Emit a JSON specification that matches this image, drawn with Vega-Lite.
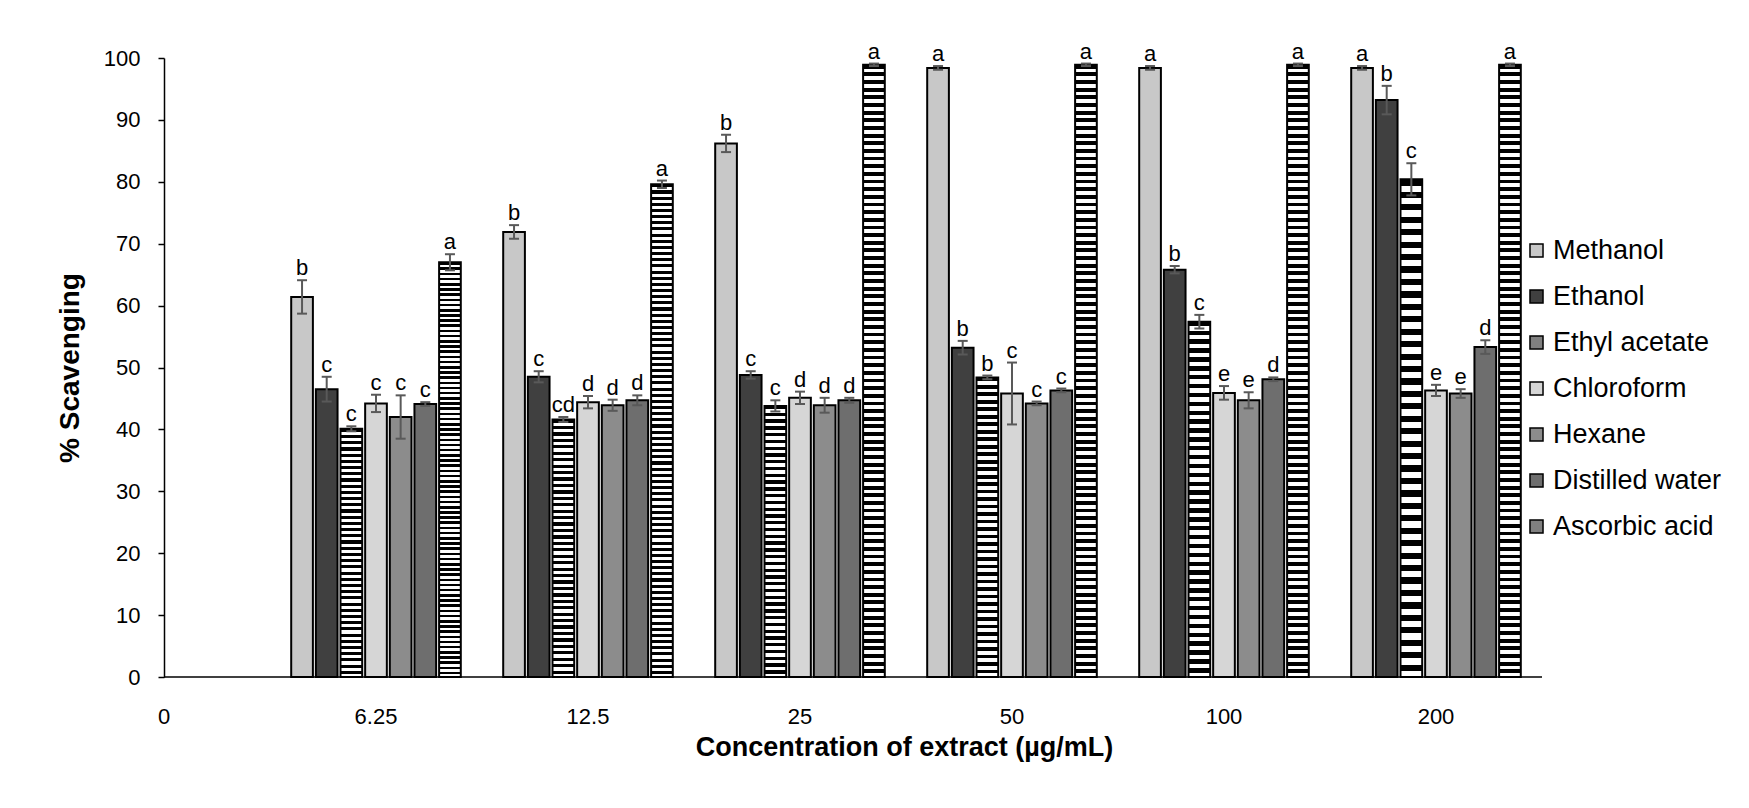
{
"$schema":"https://vega.github.io/schema/vega-lite/v6.json",
"width":1378,"height":619,
"autosize":{"type":"none"},
"padding":{"left":164,"top":58,"right":207,"bottom":131},
"background":"#ffffff",
"config":{"view":{"stroke":null},"font":"Liberation Sans","text":{"font":"Liberation Sans"}},
"layer":[
{
"data":{"values":[
{"conc":"6.25","series":"Methanol","value":61.4,"lo":58.7,"hi":64.1,"letter":"b"},
{"conc":"6.25","series":"Ethanol","value":46.5,"lo":44.5,"hi":48.5,"letter":"c"},
{"conc":"6.25","series":"Ethyl acetate","value":40.1,"lo":39.7,"hi":40.5,"letter":"c"},
{"conc":"6.25","series":"Chloroform","value":44.2,"lo":42.8,"hi":45.6,"letter":"c"},
{"conc":"6.25","series":"Hexane","value":42.0,"lo":38.5,"hi":45.5,"letter":"c"},
{"conc":"6.25","series":"Distilled water","value":44.1,"lo":43.8,"hi":44.4,"letter":"c"},
{"conc":"6.25","series":"Ascorbic acid","value":67.0,"lo":65.7,"hi":68.3,"letter":"a"},
{"conc":"12.5","series":"Methanol","value":71.9,"lo":70.8,"hi":73.0,"letter":"b"},
{"conc":"12.5","series":"Ethanol","value":48.5,"lo":47.6,"hi":49.4,"letter":"c"},
{"conc":"12.5","series":"Ethyl acetate","value":41.6,"lo":41.2,"hi":42.0,"letter":"cd"},
{"conc":"12.5","series":"Chloroform","value":44.4,"lo":43.4,"hi":45.4,"letter":"d"},
{"conc":"12.5","series":"Hexane","value":43.9,"lo":43.0,"hi":44.8,"letter":"d"},
{"conc":"12.5","series":"Distilled water","value":44.7,"lo":43.9,"hi":45.5,"letter":"d"},
{"conc":"12.5","series":"Ascorbic acid","value":79.6,"lo":79.0,"hi":80.2,"letter":"a"},
{"conc":"25","series":"Methanol","value":86.2,"lo":84.8,"hi":87.6,"letter":"b"},
{"conc":"25","series":"Ethanol","value":48.8,"lo":48.2,"hi":49.4,"letter":"c"},
{"conc":"25","series":"Ethyl acetate","value":43.8,"lo":42.9,"hi":44.7,"letter":"c"},
{"conc":"25","series":"Chloroform","value":45.1,"lo":44.1,"hi":46.1,"letter":"d"},
{"conc":"25","series":"Hexane","value":43.9,"lo":42.7,"hi":45.1,"letter":"d"},
{"conc":"25","series":"Distilled water","value":44.7,"lo":44.3,"hi":45.1,"letter":"d"},
{"conc":"25","series":"Ascorbic acid","value":98.9,"lo":98.7,"hi":99.1,"letter":"a"},
{"conc":"50","series":"Methanol","value":98.4,"lo":98.1,"hi":98.7,"letter":"a"},
{"conc":"50","series":"Ethanol","value":53.2,"lo":52.1,"hi":54.3,"letter":"b"},
{"conc":"50","series":"Ethyl acetate","value":48.4,"lo":48.1,"hi":48.7,"letter":"b"},
{"conc":"50","series":"Chloroform","value":45.8,"lo":40.8,"hi":50.8,"letter":"c"},
{"conc":"50","series":"Hexane","value":44.2,"lo":43.9,"hi":44.5,"letter":"c"},
{"conc":"50","series":"Distilled water","value":46.3,"lo":46.0,"hi":46.6,"letter":"c"},
{"conc":"50","series":"Ascorbic acid","value":98.9,"lo":98.7,"hi":99.1,"letter":"a"},
{"conc":"100","series":"Methanol","value":98.4,"lo":98.1,"hi":98.7,"letter":"a"},
{"conc":"100","series":"Ethanol","value":65.8,"lo":65.2,"hi":66.4,"letter":"b"},
{"conc":"100","series":"Ethyl acetate","value":57.4,"lo":56.3,"hi":58.5,"letter":"c"},
{"conc":"100","series":"Chloroform","value":45.9,"lo":44.8,"hi":47.0,"letter":"e"},
{"conc":"100","series":"Hexane","value":44.7,"lo":43.4,"hi":46.0,"letter":"e"},
{"conc":"100","series":"Distilled water","value":48.1,"lo":47.8,"hi":48.4,"letter":"d"},
{"conc":"100","series":"Ascorbic acid","value":98.9,"lo":98.7,"hi":99.1,"letter":"a"},
{"conc":"200","series":"Methanol","value":98.4,"lo":98.1,"hi":98.7,"letter":"a"},
{"conc":"200","series":"Ethanol","value":93.2,"lo":90.9,"hi":95.5,"letter":"b"},
{"conc":"200","series":"Ethyl acetate","value":80.4,"lo":77.8,"hi":83.0,"letter":"c"},
{"conc":"200","series":"Chloroform","value":46.3,"lo":45.4,"hi":47.2,"letter":"e"},
{"conc":"200","series":"Hexane","value":45.8,"lo":45.1,"hi":46.5,"letter":"e"},
{"conc":"200","series":"Distilled water","value":53.3,"lo":52.2,"hi":54.4,"letter":"d"},
{"conc":"200","series":"Ascorbic acid","value":98.9,"lo":98.7,"hi":99.1,"letter":"a"}
]},
"encoding":{
"x":{"field":"conc","type":"nominal","scale":{"domain":["0","6.25","12.5","25","50","100","200"],"range":[-106,1378],"paddingInner":0.2,"paddingOuter":0.1},
"axis":{"title":"Concentration of extract (µg/mL)","labelAngle":0,"ticks":false,"domain":false,"grid":false,"labelFontSize":22,"labelColor":"#000","labelPadding":29,"titleFontSize":27,"titleFontWeight":"bold","titleColor":"#000","titlePadding":7,"titleX":740}},
"xOffset":{"field":"series","type":"nominal","sort":["Methanol","Ethanol","Ethyl acetate","Chloroform","Hexane","Distilled water","Ascorbic acid"],"scale":{"paddingInner":0.12}}
},
"layer":[
{"mark":{"type":"bar","stroke":"#000","strokeWidth":2},
"encoding":{
"y":{"field":"value","type":"quantitative","scale":{"domain":[0,100],"nice":false},
"axis":{"title":"% Scavenging","values":[0,10,20,30,40,50,60,70,80,90,100],"grid":false,"tickSize":6,"tickColor":"#000","tickWidth":1.5,"domainColor":"#000","domainWidth":1.5,"labelFontSize":22,"labelColor":"#000","labelPadding":18,"titleFontSize":28,"titleFontWeight":"bold","titleColor":"#000","titlePadding":19}},
"fill":{"field":"series","type":"nominal",
"condition":[
{"test":"datum.series === 'Ethyl acetate'","value":{"gradient":"linear","x1":0,"y1":0,"x2":0,"y2":1,"stops":[
{"offset":0,"color":"#000"},{"offset":0.0125,"color":"#000"},{"offset":0.0125,"color":"#fff"},{"offset":0.025,"color":"#fff"},
{"offset":0.025,"color":"#000"},{"offset":0.0375,"color":"#000"},{"offset":0.0375,"color":"#fff"},{"offset":0.05,"color":"#fff"},
{"offset":0.05,"color":"#000"},{"offset":0.0625,"color":"#000"},{"offset":0.0625,"color":"#fff"},{"offset":0.075,"color":"#fff"},
{"offset":0.075,"color":"#000"},{"offset":0.0875,"color":"#000"},{"offset":0.0875,"color":"#fff"},{"offset":0.1,"color":"#fff"},
{"offset":0.1,"color":"#000"},{"offset":0.1125,"color":"#000"},{"offset":0.1125,"color":"#fff"},{"offset":0.125,"color":"#fff"},
{"offset":0.125,"color":"#000"},{"offset":0.1375,"color":"#000"},{"offset":0.1375,"color":"#fff"},{"offset":0.15,"color":"#fff"},
{"offset":0.15,"color":"#000"},{"offset":0.1625,"color":"#000"},{"offset":0.1625,"color":"#fff"},{"offset":0.175,"color":"#fff"},
{"offset":0.175,"color":"#000"},{"offset":0.1875,"color":"#000"},{"offset":0.1875,"color":"#fff"},{"offset":0.2,"color":"#fff"},
{"offset":0.2,"color":"#000"},{"offset":0.2125,"color":"#000"},{"offset":0.2125,"color":"#fff"},{"offset":0.225,"color":"#fff"},
{"offset":0.225,"color":"#000"},{"offset":0.2375,"color":"#000"},{"offset":0.2375,"color":"#fff"},{"offset":0.25,"color":"#fff"},
{"offset":0.25,"color":"#000"},{"offset":0.2625,"color":"#000"},{"offset":0.2625,"color":"#fff"},{"offset":0.275,"color":"#fff"},
{"offset":0.275,"color":"#000"},{"offset":0.2875,"color":"#000"},{"offset":0.2875,"color":"#fff"},{"offset":0.3,"color":"#fff"},
{"offset":0.3,"color":"#000"},{"offset":0.3125,"color":"#000"},{"offset":0.3125,"color":"#fff"},{"offset":0.325,"color":"#fff"},
{"offset":0.325,"color":"#000"},{"offset":0.3375,"color":"#000"},{"offset":0.3375,"color":"#fff"},{"offset":0.35,"color":"#fff"},
{"offset":0.35,"color":"#000"},{"offset":0.3625,"color":"#000"},{"offset":0.3625,"color":"#fff"},{"offset":0.375,"color":"#fff"},
{"offset":0.375,"color":"#000"},{"offset":0.3875,"color":"#000"},{"offset":0.3875,"color":"#fff"},{"offset":0.4,"color":"#fff"},
{"offset":0.4,"color":"#000"},{"offset":0.4125,"color":"#000"},{"offset":0.4125,"color":"#fff"},{"offset":0.425,"color":"#fff"},
{"offset":0.425,"color":"#000"},{"offset":0.4375,"color":"#000"},{"offset":0.4375,"color":"#fff"},{"offset":0.45,"color":"#fff"},
{"offset":0.45,"color":"#000"},{"offset":0.4625,"color":"#000"},{"offset":0.4625,"color":"#fff"},{"offset":0.475,"color":"#fff"},
{"offset":0.475,"color":"#000"},{"offset":0.4875,"color":"#000"},{"offset":0.4875,"color":"#fff"},{"offset":0.5,"color":"#fff"},
{"offset":0.5,"color":"#000"},{"offset":0.5125,"color":"#000"},{"offset":0.5125,"color":"#fff"},{"offset":0.525,"color":"#fff"},
{"offset":0.525,"color":"#000"},{"offset":0.5375,"color":"#000"},{"offset":0.5375,"color":"#fff"},{"offset":0.55,"color":"#fff"},
{"offset":0.55,"color":"#000"},{"offset":0.5625,"color":"#000"},{"offset":0.5625,"color":"#fff"},{"offset":0.575,"color":"#fff"},
{"offset":0.575,"color":"#000"},{"offset":0.5875,"color":"#000"},{"offset":0.5875,"color":"#fff"},{"offset":0.6,"color":"#fff"},
{"offset":0.6,"color":"#000"},{"offset":0.6125,"color":"#000"},{"offset":0.6125,"color":"#fff"},{"offset":0.625,"color":"#fff"},
{"offset":0.625,"color":"#000"},{"offset":0.6375,"color":"#000"},{"offset":0.6375,"color":"#fff"},{"offset":0.65,"color":"#fff"},
{"offset":0.65,"color":"#000"},{"offset":0.6625,"color":"#000"},{"offset":0.6625,"color":"#fff"},{"offset":0.675,"color":"#fff"},
{"offset":0.675,"color":"#000"},{"offset":0.6875,"color":"#000"},{"offset":0.6875,"color":"#fff"},{"offset":0.7,"color":"#fff"},
{"offset":0.7,"color":"#000"},{"offset":0.7125,"color":"#000"},{"offset":0.7125,"color":"#fff"},{"offset":0.725,"color":"#fff"},
{"offset":0.725,"color":"#000"},{"offset":0.7375,"color":"#000"},{"offset":0.7375,"color":"#fff"},{"offset":0.75,"color":"#fff"},
{"offset":0.75,"color":"#000"},{"offset":0.7625,"color":"#000"},{"offset":0.7625,"color":"#fff"},{"offset":0.775,"color":"#fff"},
{"offset":0.775,"color":"#000"},{"offset":0.7875,"color":"#000"},{"offset":0.7875,"color":"#fff"},{"offset":0.8,"color":"#fff"},
{"offset":0.8,"color":"#000"},{"offset":0.8125,"color":"#000"},{"offset":0.8125,"color":"#fff"},{"offset":0.825,"color":"#fff"},
{"offset":0.825,"color":"#000"},{"offset":0.8375,"color":"#000"},{"offset":0.8375,"color":"#fff"},{"offset":0.85,"color":"#fff"},
{"offset":0.85,"color":"#000"},{"offset":0.8625,"color":"#000"},{"offset":0.8625,"color":"#fff"},{"offset":0.875,"color":"#fff"},
{"offset":0.875,"color":"#000"},{"offset":0.8875,"color":"#000"},{"offset":0.8875,"color":"#fff"},{"offset":0.9,"color":"#fff"},
{"offset":0.9,"color":"#000"},{"offset":0.9125,"color":"#000"},{"offset":0.9125,"color":"#fff"},{"offset":0.925,"color":"#fff"},
{"offset":0.925,"color":"#000"},{"offset":0.9375,"color":"#000"},{"offset":0.9375,"color":"#fff"},{"offset":0.95,"color":"#fff"},
{"offset":0.95,"color":"#000"},{"offset":0.9625,"color":"#000"},{"offset":0.9625,"color":"#fff"},{"offset":0.975,"color":"#fff"},
{"offset":0.975,"color":"#000"},{"offset":0.9875,"color":"#000"},{"offset":0.9875,"color":"#fff"},{"offset":1,"color":"#fff"}
]}},
{"test":"datum.series === 'Ascorbic acid'","value":{"gradient":"linear","x1":0,"y1":0,"x2":0,"y2":1,"stops":[
{"offset":0,"color":"#000"},{"offset":0.00625,"color":"#000"},{"offset":0.00625,"color":"#fff"},{"offset":0.0125,"color":"#fff"},
{"offset":0.0125,"color":"#000"},{"offset":0.01875,"color":"#000"},{"offset":0.01875,"color":"#fff"},{"offset":0.025,"color":"#fff"},
{"offset":0.025,"color":"#000"},{"offset":0.03125,"color":"#000"},{"offset":0.03125,"color":"#fff"},{"offset":0.0375,"color":"#fff"},
{"offset":0.0375,"color":"#000"},{"offset":0.04375,"color":"#000"},{"offset":0.04375,"color":"#fff"},{"offset":0.05,"color":"#fff"},
{"offset":0.05,"color":"#000"},{"offset":0.05625,"color":"#000"},{"offset":0.05625,"color":"#fff"},{"offset":0.0625,"color":"#fff"},
{"offset":0.0625,"color":"#000"},{"offset":0.06875,"color":"#000"},{"offset":0.06875,"color":"#fff"},{"offset":0.075,"color":"#fff"},
{"offset":0.075,"color":"#000"},{"offset":0.08125,"color":"#000"},{"offset":0.08125,"color":"#fff"},{"offset":0.0875,"color":"#fff"},
{"offset":0.0875,"color":"#000"},{"offset":0.09375,"color":"#000"},{"offset":0.09375,"color":"#fff"},{"offset":0.1,"color":"#fff"},
{"offset":0.1,"color":"#000"},{"offset":0.10625,"color":"#000"},{"offset":0.10625,"color":"#fff"},{"offset":0.1125,"color":"#fff"},
{"offset":0.1125,"color":"#000"},{"offset":0.11875,"color":"#000"},{"offset":0.11875,"color":"#fff"},{"offset":0.125,"color":"#fff"},
{"offset":0.125,"color":"#000"},{"offset":0.13125,"color":"#000"},{"offset":0.13125,"color":"#fff"},{"offset":0.1375,"color":"#fff"},
{"offset":0.1375,"color":"#000"},{"offset":0.14375,"color":"#000"},{"offset":0.14375,"color":"#fff"},{"offset":0.15,"color":"#fff"},
{"offset":0.15,"color":"#000"},{"offset":0.15625,"color":"#000"},{"offset":0.15625,"color":"#fff"},{"offset":0.1625,"color":"#fff"},
{"offset":0.1625,"color":"#000"},{"offset":0.16875,"color":"#000"},{"offset":0.16875,"color":"#fff"},{"offset":0.175,"color":"#fff"},
{"offset":0.175,"color":"#000"},{"offset":0.18125,"color":"#000"},{"offset":0.18125,"color":"#fff"},{"offset":0.1875,"color":"#fff"},
{"offset":0.1875,"color":"#000"},{"offset":0.19375,"color":"#000"},{"offset":0.19375,"color":"#fff"},{"offset":0.2,"color":"#fff"},
{"offset":0.2,"color":"#000"},{"offset":0.20625,"color":"#000"},{"offset":0.20625,"color":"#fff"},{"offset":0.2125,"color":"#fff"},
{"offset":0.2125,"color":"#000"},{"offset":0.21875,"color":"#000"},{"offset":0.21875,"color":"#fff"},{"offset":0.225,"color":"#fff"},
{"offset":0.225,"color":"#000"},{"offset":0.23125,"color":"#000"},{"offset":0.23125,"color":"#fff"},{"offset":0.2375,"color":"#fff"},
{"offset":0.2375,"color":"#000"},{"offset":0.24375,"color":"#000"},{"offset":0.24375,"color":"#fff"},{"offset":0.25,"color":"#fff"},
{"offset":0.25,"color":"#000"},{"offset":0.25625,"color":"#000"},{"offset":0.25625,"color":"#fff"},{"offset":0.2625,"color":"#fff"},
{"offset":0.2625,"color":"#000"},{"offset":0.26875,"color":"#000"},{"offset":0.26875,"color":"#fff"},{"offset":0.275,"color":"#fff"},
{"offset":0.275,"color":"#000"},{"offset":0.28125,"color":"#000"},{"offset":0.28125,"color":"#fff"},{"offset":0.2875,"color":"#fff"},
{"offset":0.2875,"color":"#000"},{"offset":0.29375,"color":"#000"},{"offset":0.29375,"color":"#fff"},{"offset":0.3,"color":"#fff"},
{"offset":0.3,"color":"#000"},{"offset":0.30625,"color":"#000"},{"offset":0.30625,"color":"#fff"},{"offset":0.3125,"color":"#fff"},
{"offset":0.3125,"color":"#000"},{"offset":0.31875,"color":"#000"},{"offset":0.31875,"color":"#fff"},{"offset":0.325,"color":"#fff"},
{"offset":0.325,"color":"#000"},{"offset":0.33125,"color":"#000"},{"offset":0.33125,"color":"#fff"},{"offset":0.3375,"color":"#fff"},
{"offset":0.3375,"color":"#000"},{"offset":0.34375,"color":"#000"},{"offset":0.34375,"color":"#fff"},{"offset":0.35,"color":"#fff"},
{"offset":0.35,"color":"#000"},{"offset":0.35625,"color":"#000"},{"offset":0.35625,"color":"#fff"},{"offset":0.3625,"color":"#fff"},
{"offset":0.3625,"color":"#000"},{"offset":0.36875,"color":"#000"},{"offset":0.36875,"color":"#fff"},{"offset":0.375,"color":"#fff"},
{"offset":0.375,"color":"#000"},{"offset":0.38125,"color":"#000"},{"offset":0.38125,"color":"#fff"},{"offset":0.3875,"color":"#fff"},
{"offset":0.3875,"color":"#000"},{"offset":0.39375,"color":"#000"},{"offset":0.39375,"color":"#fff"},{"offset":0.4,"color":"#fff"},
{"offset":0.4,"color":"#000"},{"offset":0.40625,"color":"#000"},{"offset":0.40625,"color":"#fff"},{"offset":0.4125,"color":"#fff"},
{"offset":0.4125,"color":"#000"},{"offset":0.41875,"color":"#000"},{"offset":0.41875,"color":"#fff"},{"offset":0.425,"color":"#fff"},
{"offset":0.425,"color":"#000"},{"offset":0.43125,"color":"#000"},{"offset":0.43125,"color":"#fff"},{"offset":0.4375,"color":"#fff"},
{"offset":0.4375,"color":"#000"},{"offset":0.44375,"color":"#000"},{"offset":0.44375,"color":"#fff"},{"offset":0.45,"color":"#fff"},
{"offset":0.45,"color":"#000"},{"offset":0.45625,"color":"#000"},{"offset":0.45625,"color":"#fff"},{"offset":0.4625,"color":"#fff"},
{"offset":0.4625,"color":"#000"},{"offset":0.46875,"color":"#000"},{"offset":0.46875,"color":"#fff"},{"offset":0.475,"color":"#fff"},
{"offset":0.475,"color":"#000"},{"offset":0.48125,"color":"#000"},{"offset":0.48125,"color":"#fff"},{"offset":0.4875,"color":"#fff"},
{"offset":0.4875,"color":"#000"},{"offset":0.49375,"color":"#000"},{"offset":0.49375,"color":"#fff"},{"offset":0.5,"color":"#fff"},
{"offset":0.5,"color":"#000"},{"offset":0.50625,"color":"#000"},{"offset":0.50625,"color":"#fff"},{"offset":0.5125,"color":"#fff"},
{"offset":0.5125,"color":"#000"},{"offset":0.51875,"color":"#000"},{"offset":0.51875,"color":"#fff"},{"offset":0.525,"color":"#fff"},
{"offset":0.525,"color":"#000"},{"offset":0.53125,"color":"#000"},{"offset":0.53125,"color":"#fff"},{"offset":0.5375,"color":"#fff"},
{"offset":0.5375,"color":"#000"},{"offset":0.54375,"color":"#000"},{"offset":0.54375,"color":"#fff"},{"offset":0.55,"color":"#fff"},
{"offset":0.55,"color":"#000"},{"offset":0.55625,"color":"#000"},{"offset":0.55625,"color":"#fff"},{"offset":0.5625,"color":"#fff"},
{"offset":0.5625,"color":"#000"},{"offset":0.56875,"color":"#000"},{"offset":0.56875,"color":"#fff"},{"offset":0.575,"color":"#fff"},
{"offset":0.575,"color":"#000"},{"offset":0.58125,"color":"#000"},{"offset":0.58125,"color":"#fff"},{"offset":0.5875,"color":"#fff"},
{"offset":0.5875,"color":"#000"},{"offset":0.59375,"color":"#000"},{"offset":0.59375,"color":"#fff"},{"offset":0.6,"color":"#fff"},
{"offset":0.6,"color":"#000"},{"offset":0.60625,"color":"#000"},{"offset":0.60625,"color":"#fff"},{"offset":0.6125,"color":"#fff"},
{"offset":0.6125,"color":"#000"},{"offset":0.61875,"color":"#000"},{"offset":0.61875,"color":"#fff"},{"offset":0.625,"color":"#fff"},
{"offset":0.625,"color":"#000"},{"offset":0.63125,"color":"#000"},{"offset":0.63125,"color":"#fff"},{"offset":0.6375,"color":"#fff"},
{"offset":0.6375,"color":"#000"},{"offset":0.64375,"color":"#000"},{"offset":0.64375,"color":"#fff"},{"offset":0.65,"color":"#fff"},
{"offset":0.65,"color":"#000"},{"offset":0.65625,"color":"#000"},{"offset":0.65625,"color":"#fff"},{"offset":0.6625,"color":"#fff"},
{"offset":0.6625,"color":"#000"},{"offset":0.66875,"color":"#000"},{"offset":0.66875,"color":"#fff"},{"offset":0.675,"color":"#fff"},
{"offset":0.675,"color":"#000"},{"offset":0.68125,"color":"#000"},{"offset":0.68125,"color":"#fff"},{"offset":0.6875,"color":"#fff"},
{"offset":0.6875,"color":"#000"},{"offset":0.69375,"color":"#000"},{"offset":0.69375,"color":"#fff"},{"offset":0.7,"color":"#fff"},
{"offset":0.7,"color":"#000"},{"offset":0.70625,"color":"#000"},{"offset":0.70625,"color":"#fff"},{"offset":0.7125,"color":"#fff"},
{"offset":0.7125,"color":"#000"},{"offset":0.71875,"color":"#000"},{"offset":0.71875,"color":"#fff"},{"offset":0.725,"color":"#fff"},
{"offset":0.725,"color":"#000"},{"offset":0.73125,"color":"#000"},{"offset":0.73125,"color":"#fff"},{"offset":0.7375,"color":"#fff"},
{"offset":0.7375,"color":"#000"},{"offset":0.74375,"color":"#000"},{"offset":0.74375,"color":"#fff"},{"offset":0.75,"color":"#fff"},
{"offset":0.75,"color":"#000"},{"offset":0.75625,"color":"#000"},{"offset":0.75625,"color":"#fff"},{"offset":0.7625,"color":"#fff"},
{"offset":0.7625,"color":"#000"},{"offset":0.76875,"color":"#000"},{"offset":0.76875,"color":"#fff"},{"offset":0.775,"color":"#fff"},
{"offset":0.775,"color":"#000"},{"offset":0.78125,"color":"#000"},{"offset":0.78125,"color":"#fff"},{"offset":0.7875,"color":"#fff"},
{"offset":0.7875,"color":"#000"},{"offset":0.79375,"color":"#000"},{"offset":0.79375,"color":"#fff"},{"offset":0.8,"color":"#fff"},
{"offset":0.8,"color":"#000"},{"offset":0.80625,"color":"#000"},{"offset":0.80625,"color":"#fff"},{"offset":0.8125,"color":"#fff"},
{"offset":0.8125,"color":"#000"},{"offset":0.81875,"color":"#000"},{"offset":0.81875,"color":"#fff"},{"offset":0.825,"color":"#fff"},
{"offset":0.825,"color":"#000"},{"offset":0.83125,"color":"#000"},{"offset":0.83125,"color":"#fff"},{"offset":0.8375,"color":"#fff"},
{"offset":0.8375,"color":"#000"},{"offset":0.84375,"color":"#000"},{"offset":0.84375,"color":"#fff"},{"offset":0.85,"color":"#fff"},
{"offset":0.85,"color":"#000"},{"offset":0.85625,"color":"#000"},{"offset":0.85625,"color":"#fff"},{"offset":0.8625,"color":"#fff"},
{"offset":0.8625,"color":"#000"},{"offset":0.86875,"color":"#000"},{"offset":0.86875,"color":"#fff"},{"offset":0.875,"color":"#fff"},
{"offset":0.875,"color":"#000"},{"offset":0.88125,"color":"#000"},{"offset":0.88125,"color":"#fff"},{"offset":0.8875,"color":"#fff"},
{"offset":0.8875,"color":"#000"},{"offset":0.89375,"color":"#000"},{"offset":0.89375,"color":"#fff"},{"offset":0.9,"color":"#fff"},
{"offset":0.9,"color":"#000"},{"offset":0.90625,"color":"#000"},{"offset":0.90625,"color":"#fff"},{"offset":0.9125,"color":"#fff"},
{"offset":0.9125,"color":"#000"},{"offset":0.91875,"color":"#000"},{"offset":0.91875,"color":"#fff"},{"offset":0.925,"color":"#fff"},
{"offset":0.925,"color":"#000"},{"offset":0.93125,"color":"#000"},{"offset":0.93125,"color":"#fff"},{"offset":0.9375,"color":"#fff"},
{"offset":0.9375,"color":"#000"},{"offset":0.94375,"color":"#000"},{"offset":0.94375,"color":"#fff"},{"offset":0.95,"color":"#fff"},
{"offset":0.95,"color":"#000"},{"offset":0.95625,"color":"#000"},{"offset":0.95625,"color":"#fff"},{"offset":0.9625,"color":"#fff"},
{"offset":0.9625,"color":"#000"},{"offset":0.96875,"color":"#000"},{"offset":0.96875,"color":"#fff"},{"offset":0.975,"color":"#fff"},
{"offset":0.975,"color":"#000"},{"offset":0.98125,"color":"#000"},{"offset":0.98125,"color":"#fff"},{"offset":0.9875,"color":"#fff"},
{"offset":0.9875,"color":"#000"},{"offset":0.99375,"color":"#000"},{"offset":0.99375,"color":"#fff"},{"offset":1,"color":"#fff"}
]}}
],
"scale":{"domain":["Methanol","Ethanol","Ethyl acetate","Chloroform","Hexane","Distilled water","Ascorbic acid"],"range":["#c8c8c8","#404040","#808080","#d6d6d6","#8c8c8c","#6e6e6e","#808080"]},
"legend":{"title":null,"orient":"none","legendX":1359,"legendY":179,"direction":"vertical","symbolType":"square","symbolSize":170,"symbolStrokeColor":"#000","symbolStrokeWidth":1.5,"symbolOpacity":1,"labelFontSize":27,"labelColor":"#000","labelFont":"Liberation Sans","labelOffset":3,"rowPadding":18,"labelLimit":400}}
}},
{"mark":{"type":"rule","color":"#595959","strokeWidth":2},
"encoding":{"y":{"field":"lo","type":"quantitative"},"y2":{"field":"hi"}}},
{"mark":{"type":"tick","color":"#595959","thickness":2,"size":10,"opacity":1},
"encoding":{"y":{"field":"lo","type":"quantitative"}}},
{"mark":{"type":"tick","color":"#595959","thickness":2,"size":10,"opacity":1},
"encoding":{"y":{"field":"hi","type":"quantitative"}}},
{"mark":{"type":"text","fontSize":22,"dy":-5,"baseline":"alphabetic","color":"#000","font":"Liberation Sans"},
"encoding":{"y":{"field":"hi","type":"quantitative"},"text":{"field":"letter"}}}
]
},
{"data":{"values":[{}]},"mark":{"type":"rule","color":"#000","strokeWidth":1.5},"encoding":{"y":{"datum":0}}}
]
}
